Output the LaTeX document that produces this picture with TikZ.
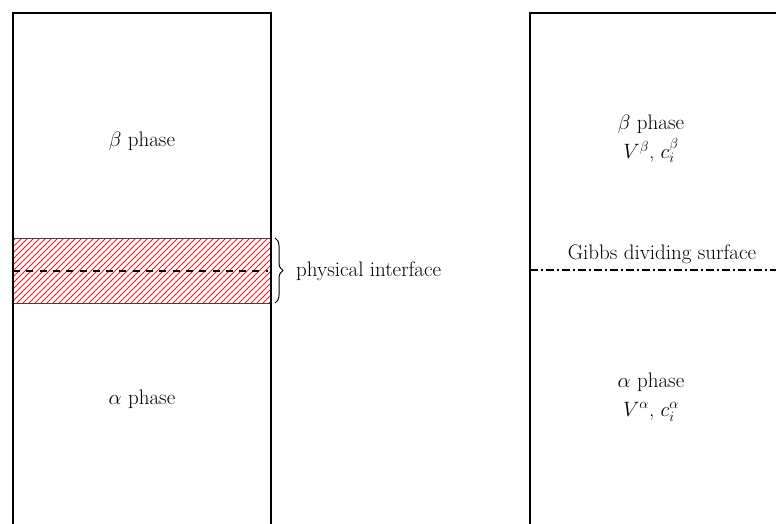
\documentclass[tikz,border=0pt]{standalone}
\usetikzlibrary{decorations.pathreplacing}
\definecolor{hatchred}{rgb}{1,0.1,0.1}
\begin{document}
\begin{tikzpicture}[x=1pt,y=-1pt,
  box/.style={line width=1.3pt,black},
  lbl/.style={font=\fontsize{21}{25}\selectfont,align=center,inner sep=0pt},
  hatchline/.style={hatchred,line width=0.8pt},
  midline/.style={line width=1.6pt,dash pattern=on 7pt off 6.3pt},
  gibbsline/.style={line width=1.3pt,dash pattern=on 8pt off 3pt on 2pt off 3pt}]
\useasboundingbox (0,0) rectangle (776,524);
% left column
\coordinate (lbl) at (13,524);
\coordinate (ltl) at (13,13);
\coordinate (ltr) at (271,13);
\coordinate (lbr) at (271,524);
\begin{scope}
\clip (13,238) rectangle (271,303);
\foreach \i in {-80,-74,...,280} {
  \draw[hatchline] (\i,310) -- ++(80,-80);
}
\end{scope}
\draw[black!75,line width=0.8pt] (13,238) -- (271,238) (13,303) -- (271,303);
\coordinate (dl) at (13,271);
\coordinate (dr) at (268,271);
\draw[midline] (dl) -- (dr);
\draw[box] (lbl) -- (ltl) -- (ltr) -- (lbr);
\coordinate (bt) at (275,238);
\coordinate (bb) at (275,303);
\draw[line width=1pt,decorate,decoration={brace,amplitude=8pt}] (bt) -- (bb);
\node[lbl,anchor=west] (phys) at (296,271) {physical interface};
\node[lbl] (lbeta) at (142,141) {$\beta$ phase};
\node[lbl] (lalpha) at (142,399) {$\alpha$ phase};
% right column
\coordinate (rbl) at (530,524);
\coordinate (rtl) at (530,13);
\coordinate (rtr) at (776,13);
\draw[box] (rbl) -- (rtl) -- (rtr);
\coordinate (gl) at (530,270);
\coordinate (gr) at (776,270);
\draw[gibbsline] (gl) -- (gr);
\node[lbl] (gibbs) at (662,254) {Gibbs dividing surface};
\node[lbl] (rbeta) at (651,139) {$\beta$ phase\\[4pt]$V^{\beta}$, $c_i^{\beta}$};
\node[lbl] (ralpha) at (651,397) {$\alpha$ phase\\[4pt]$V^{\alpha}$, $c_i^{\alpha}$};
\end{tikzpicture}
\end{document}
